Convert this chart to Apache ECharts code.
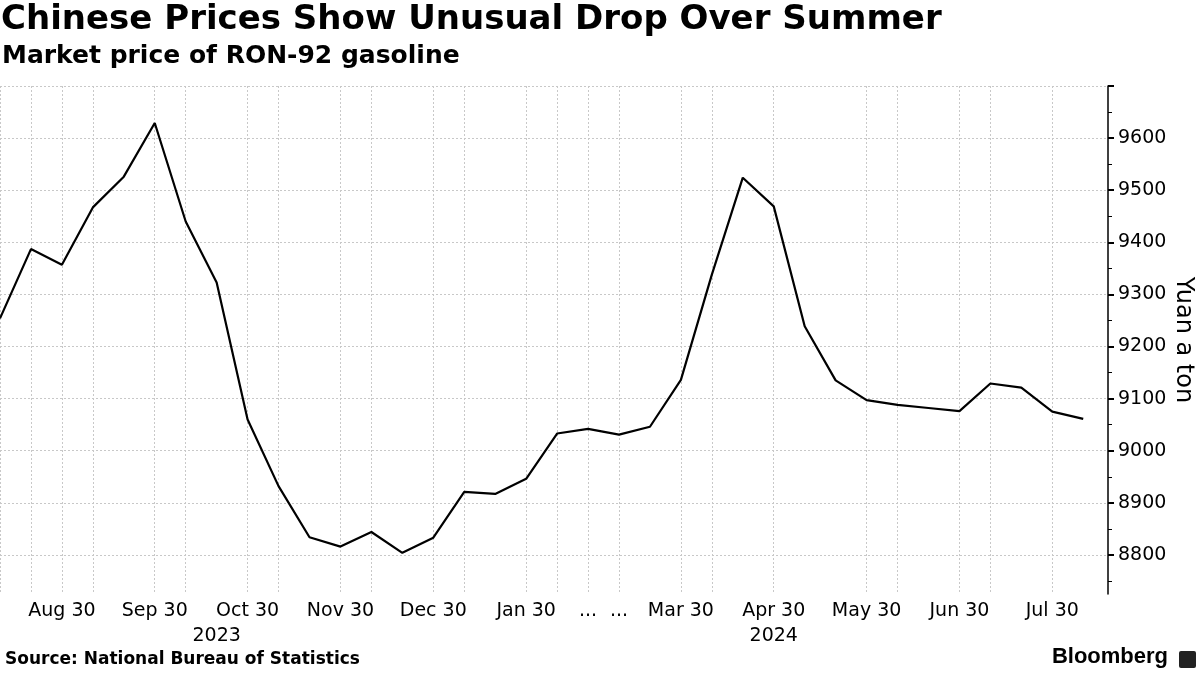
<!DOCTYPE html>
<html>
<head>
<meta charset="utf-8">
<script src="https://cdn.jsdelivr.net/npm/echarts@6/dist/echarts.min.js"></script>
<style>
  html, body { margin: 0; padding: 0; background: #fff; }
  #chart { width: 1200px; height: 675px; }
</style>
</head>
<body>
<div id="chart"></div>
<script>
// ---- Data ----
const categories = ['Aug 10','Aug 20','Aug 30','Sep 10','Sep 20','Sep 30','Oct 10','Oct 20','Oct 30',
  'Nov 10','Nov 20','Nov 30','Dec 10','Dec 20','Dec 30','Jan 10','Jan 20','Jan 30','Feb 20','Feb 29',
  'Mar 10','Mar 20','Mar 30','Apr 10','Apr 20','Apr 30','May 10','May 20','May 30','Jun 10','Jun 20',
  'Jun 30','Jul 10','Jul 20','Jul 30','Aug 10'];
const prices = [9254, 9387, 9357, 9467, 9526, 9629, 9440, 9323, 9060, 8932, 8834, 8816, 8844, 8804,
  8833, 8921, 8917, 8946, 9033, 9042, 9031, 9046, 9136, 9338, 9524, 9469, 9239, 9135, 9097, 9088,
  9082, 9076, 9129, 9121, 9075, 9061];
const xTickCategories = ['Aug 30','Sep 30','Oct 30','Nov 30','Dec 30','Jan 30','Feb 29','Mar 10',
  'Mar 30','Apr 30','May 30','Jun 30','Jul 30'];
const gapCategories = ['Feb 29','Mar 10'];
const yearCategories = ['Oct 20','Apr 30'];
const yearLabels = ['2023','2024'];
const gridCategories = ['Aug 10','Aug 20','Aug 30','Sep 10','Sep 30','Oct 10','Oct 30','Nov 10','Nov 30',
  'Dec 10','Dec 30','Jan 10','Jan 30','Feb 20','Feb 29','Mar 10','Mar 30','Apr 10','Apr 30','May 30',
  'Jun 10','Jun 30','Jul 10','Jul 30','Aug 10'];
const yTickLabels = [8800, 8900, 9000, 9100, 9200, 9300, 9400, 9500, 9600];
const yMajorTicks = [8800, 8900, 9000, 9100, 9200, 9300, 9400, 9500, 9600, 9700];
const yMinorTicks = [8750, 8850, 8950, 9050, 9150, 9250, 9350, 9450, 9550, 9650];
const yMin = 8725, yMax = 9700;

// ---- Chart ----
const idx = c => categories.indexOf(c);
const xMax = 35.8;
const FONT = 'DejaVu Sans';
const gridLine = { show: true, lineStyle: { color: '#c8c8c8', type: [2, 2], width: 1 } };

const chart = echarts.init(document.getElementById('chart'), null, { renderer: 'canvas' });
chart.setOption({
  animation: false,
  backgroundColor: '#fff',
  title: [
    { text: 'Chinese Prices Show Unusual Drop Over Summer', left: 1, top: 3, padding: 0,
      textStyle: { fontFamily: FONT, fontWeight: 'bold', fontSize: 34, color: '#000' } },
    { text: 'Market price of RON-92 gasoline', left: 2, top: 44, padding: 0,
      textStyle: { fontFamily: FONT, fontWeight: 'bold', fontSize: 25, color: '#000' } },
    { text: 'Source: National Bureau of Statistics', left: 5, top: 651, padding: 0,
      textStyle: { fontFamily: FONT, fontWeight: 'bold', fontSize: 17, color: '#000' } },
    { text: 'Bloomberg', right: 32, top: 646, padding: 0,
      textStyle: { fontFamily: 'Liberation Sans', fontWeight: 'bold', fontSize: 22, color: '#000' } }
  ],
  graphic: [
    { type: 'rect', right: 4, top: 651, shape: { width: 17, height: 17, r: 2 }, style: { fill: '#222' } }
  ],
  grid: { left: 0, right: 92, top: 86, bottom: 81, containLabel: false, outerBoundsMode: 'none' },
  xAxis: [
    {
      type: 'value', min: 0, max: xMax, position: 'bottom',
      axisLine: { show: false, onZero: false },
      axisTick: { show: false, customValues: gridCategories.map(idx) },
      splitLine: gridLine,
      axisLabel: {
        customValues: xTickCategories.map(idx),
        formatter: v => gapCategories.includes(categories[v]) ? '...' : categories[v],
        fontFamily: FONT, fontSize: 19, color: '#000', margin: 8
      }
    },
    {
      type: 'value', min: 0, max: xMax, position: 'bottom',
      axisLine: { show: false, onZero: false }, axisTick: { show: false }, splitLine: { show: false },
      axisLabel: {
        customValues: yearCategories.map(idx),
        formatter: v => yearLabels[yearCategories.indexOf(categories[v])],
        fontFamily: FONT, fontSize: 19, color: '#000', margin: 33
      }
    }
  ],
  yAxis: [
    {
      type: 'value', position: 'right', min: yMin, max: yMax,
      axisLine: { show: true, onZero: false, lineStyle: { color: '#000', width: 1.5 } },
      axisTick: { show: true, customValues: yMajorTicks, length: 6, lineStyle: { color: '#000', width: 2 } },
      splitLine: gridLine,
      axisLabel: { customValues: yTickLabels, formatter: v => String(v),
        fontFamily: FONT, fontSize: 19, color: '#000', margin: 10 },
      name: 'Yuan a ton', nameLocation: 'middle', nameRotate: -90, nameGap: 63,
      nameMoveOverlap: false,
      nameTextStyle: { fontFamily: FONT, fontSize: 24, color: '#000' }
    },
    {
      type: 'value', position: 'right', min: yMin, max: yMax,
      axisLine: { show: false, onZero: false },
      axisTick: { show: true, customValues: yMinorTicks, length: 4, lineStyle: { color: '#000', width: 1 } },
      splitLine: { show: false },
      axisLabel: { show: false }
    }
  ],
  series: [
    {
      type: 'line',
      data: prices.map((p, i) => [i, p]),
      xAxisIndex: 0, yAxisIndex: 0,
      showSymbol: false,
      lineStyle: { color: '#000', width: 2.2 },
      z: 5
    }
  ]
});
</script>
</body>
</html>
